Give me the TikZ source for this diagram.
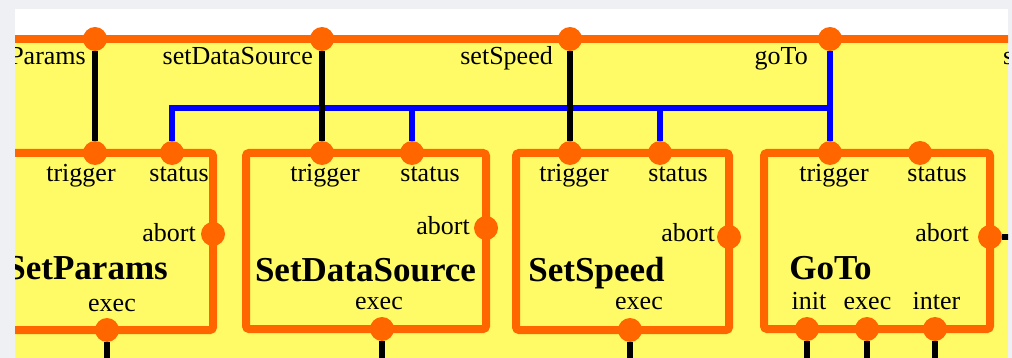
\documentclass[tikz,border=0pt]{standalone}
\usepackage{fontspec}
\setmainfont{Liberation Serif}
\definecolor{panelgray}{RGB}{239,240,244}
\definecolor{busyellow}{RGB}{255,251,102}
\definecolor{portorange}{RGB}{255,102,0}
\definecolor{linkblue}{RGB}{0,0,255}
\tikzset{
  port/.style={circle, fill=portorange, draw=none, minimum size=24pt, inner sep=0pt, outer sep=0pt},
  boxedge/.style={draw=portorange, line width=8pt, rounded corners=3pt},
  bus/.style={draw=portorange, line width=8pt},
  wire/.style={draw=black, line width=5.5pt},
  statwire/.style={draw=linkblue, line width=6pt},
  lbl/.style={inner sep=0pt, font=\fontsize{26}{30}\selectfont},
  title/.style={inner sep=0pt, font=\fontsize{35}{40}\selectfont\bfseries},
}
\begin{document}
\begin{tikzpicture}[x=1pt,y=-1pt]
\useasboundingbox (0,0) rectangle (1012,358);
\fill[panelgray] (0,0) rectangle (1012,358);
\begin{scope}
\clip (15,9) rectangle (1008,358);
\fill[white] (15,9) rectangle (1008,39);
\fill[busyellow] (15,39) rectangle (1008,358);

% frame coordinates
\coordinate (busL) at (0,39);
\coordinate (busR) at (1020,39);
\coordinate (floor) at (0,365);
\coordinate (bj) at (830,108);
\coordinate (a4r) at (1020,237);

% component boxes
\draw[boxedge] (-40,153) rectangle (213,330);
\draw[boxedge] (246,153) rectangle (486,329);
\draw[boxedge] (516,153) rectangle (729,330);
\draw[boxedge] (764,153) rectangle (990,329);

% command bus
\draw[bus] (busL) -- (busR);

% ports on the bus
\node[port] (t1) at (95,39) {};
\node[port] (t2) at (322,39) {};
\node[port] (t3) at (570,39) {};
\node[port] (t4) at (830,39) {};

% SetParams ports
\node[port] (trig1) at (95,153) {};
\node[port] (stat1) at (172,153) {};
\node[port] (abort1) at (213,234) {};
\node[port] (exec1) at (107,330) {};
% SetDataSource ports
\node[port] (trig2) at (322,153) {};
\node[port] (stat2) at (412,153) {};
\node[port] (abort2) at (486,228) {};
\node[port] (exec2) at (382,329) {};
% SetSpeed ports
\node[port] (trig3) at (570,153) {};
\node[port] (stat3) at (660,153) {};
\node[port] (abort3) at (729,237) {};
\node[port] (exec3) at (630,330) {};
% GoTo ports
\node[port] (trig4) at (830,153) {};
\node[port] (stat4) at (920,153) {};
\node[port] (abort4) at (990,237) {};
\node[port] (init4) at (807,329) {};
\node[port] (exec4) at (867,329) {};
\node[port] (inter4) at (935,329) {};

% status links
\draw[statwire] (t4) -- (trig4);
\draw[statwire] (stat1) |- (bj);
\draw[statwire] (stat2) -- (stat2 |- bj);
\draw[statwire] (stat3) -- (stat3 |- bj);

% trigger links
\draw[wire] (t1) -- (trig1);
\draw[wire] (t2) -- (trig2);
\draw[wire] (t3) -- (trig3);
\draw[wire] (abort4) -- (a4r);
\draw[wire] (exec1) -- (exec1 |- floor);
\draw[wire] (exec2) -- (exec2 |- floor);
\draw[wire] (exec3) -- (exec3 |- floor);
\draw[wire] (init4) -- (init4 |- floor);
\draw[wire] (exec4) -- (exec4 |- floor);
\draw[wire] (inter4) -- (inter4 |- floor);

% bus labels
\node[lbl, anchor=base east] (lp) at (86,65) {Params};
\node[lbl, anchor=base east] (lds) at (313,65) {setDataSource};
\node[lbl, anchor=base east] (lsp) at (553,65) {setSpeed};
\node[lbl, anchor=base east] (lgt) at (808,65) {goTo};
\node[lbl, anchor=base west] (ls) at (1003,65) {s};

% SetParams labels
\node[lbl, anchor=base] (trig1l) at (81,182) {trigger};
\node[lbl, anchor=base] (stat1l) at (179,182) {status};
\node[lbl, anchor=base east] (abort1l) at (196,241) {abort};
\node[title, anchor=base east] (name1) at (168,279) {SetParams};
\node[lbl, anchor=base] (exec1l) at (112,311) {exec};
% SetDataSource labels
\node[lbl, anchor=base] (trig2l) at (325,182) {trigger};
\node[lbl, anchor=base] (stat2l) at (430,182) {status};
\node[lbl, anchor=base east] (abort2l) at (470,234) {abort};
\node[title, anchor=base] (name2) at (365.5,281) {SetDataSource};
\node[lbl, anchor=base] (exec2l) at (379,309) {exec};
% SetSpeed labels
\node[lbl, anchor=base] (trig3l) at (574,182) {trigger};
\node[lbl, anchor=base] (stat3l) at (678,182) {status};
\node[lbl, anchor=base east] (abort3l) at (715,241) {abort};
\node[title, anchor=base] (name3) at (596.5,281) {SetSpeed};
\node[lbl, anchor=base] (exec3l) at (639,309) {exec};
% GoTo labels
\node[lbl, anchor=base] (trig4l) at (834,182) {trigger};
\node[lbl, anchor=base] (stat4l) at (937,182) {status};
\node[lbl, anchor=base east] (abort4l) at (969,242) {abort};
\node[title, anchor=base] (name4) at (830.5,279) {GoTo};
\node[lbl, anchor=base] (init4l) at (809,309) {init};
\node[lbl, anchor=base] (exec4l) at (867.5,309) {exec};
\node[lbl, anchor=base] (inter4l) at (936.5,309) {inter};
\end{scope}
\end{tikzpicture}
\end{document}
